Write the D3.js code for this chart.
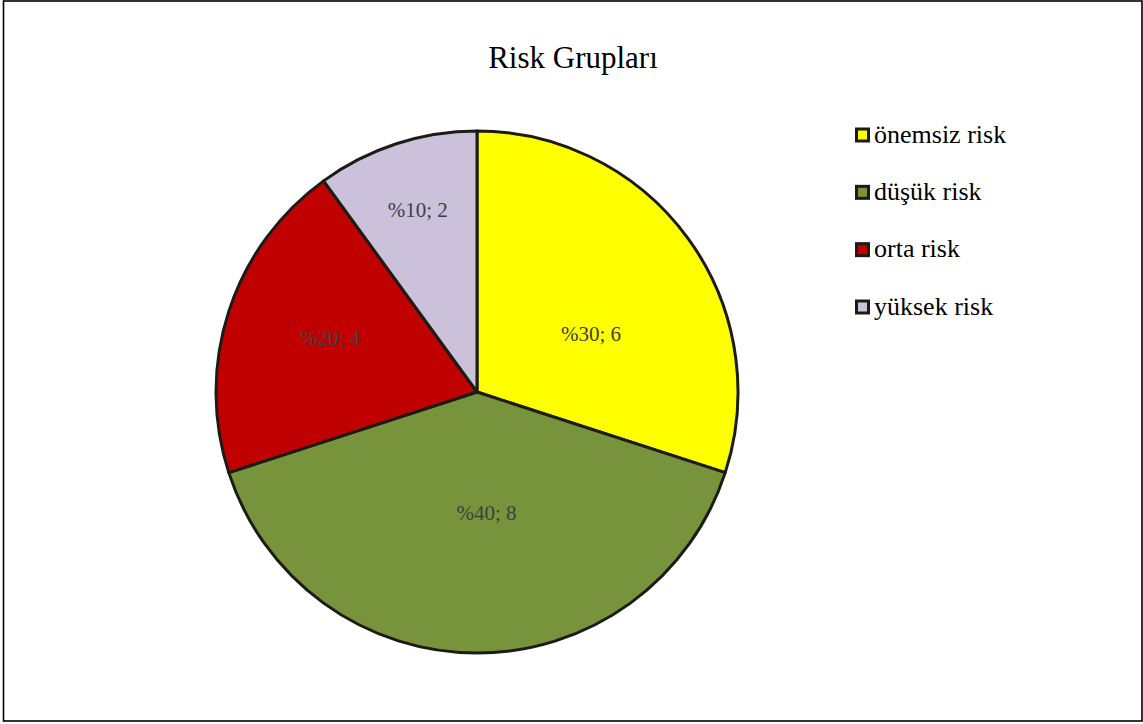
<!DOCTYPE html>
<html><head><meta charset="utf-8">
<script src="https://cdn.jsdelivr.net/npm/d3@7/dist/d3.min.js"></script>
<style>html,body{margin:0;padding:0;background:#fff;}svg{display:block;}</style>
</head><body>
<svg id="c" width="1143" height="724"></svg>
<script>
const categories = ["önemsiz risk", "düşük risk", "orta risk", "yüksek risk"];
const values = [6, 8, 4, 2];
const percents = [30, 40, 20, 10];
const colors = ["#FFFF00", "#77933C", "#C00000", "#CCC1DA"];
const title = "Risk Grupları";

// label placement (radius fraction, angle shift in degrees)
const labelPlace = [[0.49, 9], [0.465, -4.5], [0.6, 2.5], [0.735, 0]];

const svg = d3.select("#c");
const font = "'Liberation Serif','Times New Roman',serif";

svg.append("rect").attr("x", 3.5).attr("y", 1).attr("width", 1138.5).attr("height", 720)
  .attr("fill", "#fff").attr("stroke", "#000").attr("stroke-width", 1.6);

svg.append("text").attr("x", 573).attr("y", 68).attr("text-anchor", "middle")
  .attr("font-family", font).attr("font-size", 31).attr("fill", "#000").text(title);

const cx = 477, cy = 392, R = 261;
const pie = d3.pie().sort(null).value(d => d);
const arcs = pie(values);
const arc = d3.arc().innerRadius(0).outerRadius(R);
const g = svg.append("g").attr("transform", `translate(${cx},${cy})`);
g.selectAll("path").data(arcs).join("path")
  .attr("d", arc).attr("fill", (d, i) => colors[i])
  .attr("stroke", "#1d1b16").attr("stroke-width", 3).attr("stroke-linejoin", "round");

g.selectAll("text.lbl").data(arcs).join("text").attr("class", "lbl")
  .attr("transform", (d, i) => {
    const a = (d.startAngle + d.endAngle) / 2 + labelPlace[i][1] * Math.PI / 180;
    const r = R * labelPlace[i][0];
    return `translate(${r * Math.sin(a)},${-r * Math.cos(a)})`;
  })
  .attr("text-anchor", "middle").attr("dy", "0.35em")
  .attr("font-family", font).attr("font-size", 21).attr("fill", "#404040")
  .text((d, i) => `%${percents[i]}; ${values[i]}`);

const leg = svg.append("g").attr("transform", "translate(855,0)");
const rowY = d3.scalePoint().domain(categories).range([135, 307]);
categories.forEach((c, i) => {
  const y = rowY(c);
  leg.append("rect").attr("x", 1.5).attr("y", y - 6).attr("width", 12).attr("height", 12)
    .attr("fill", colors[i]).attr("stroke", "#1d1b16").attr("stroke-width", 3);
  leg.append("text").attr("x", 19).attr("y", y).attr("dy", "0.3em")
    .attr("font-family", font).attr("font-size", 26).attr("fill", "#000").text(c);
});
</script>
</body></html>
